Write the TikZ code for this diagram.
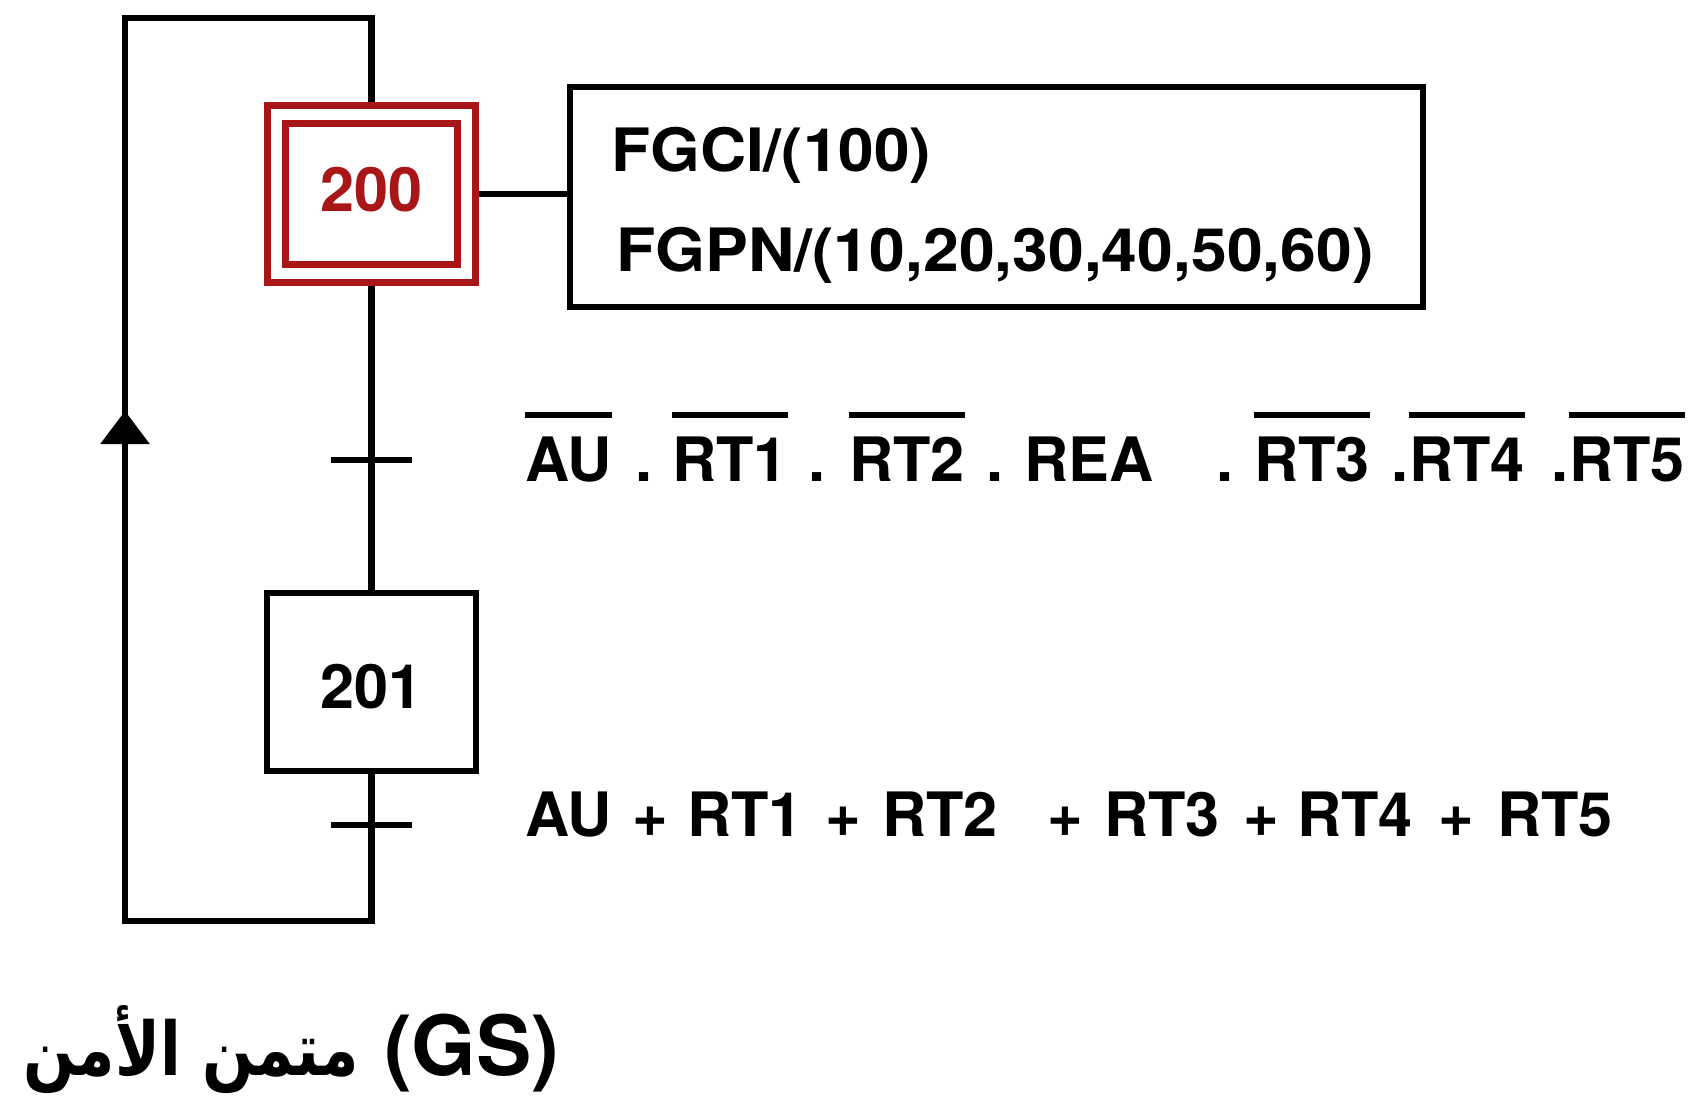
\documentclass[tikz,border=0pt]{standalone}
\usepackage{fontspec}
\usepackage{graphicx}
\setmainfont{TeX Gyre Heros}
\newfontfamily\arabicfont[Script=Arabic]{DejaVu Sans}
\TeXXeTstate=1
\usetikzlibrary{arrows.meta}
\definecolor{stepred}{RGB}{168,22,24}
\newcommand\ovl[1]{\vbox{\hrule height 0.06cm\kern 0.19cm\hbox{#1}}}
\begin{document}
\begin{tikzpicture}[x=0.01cm,y=-0.01cm,line width=0.063cm,
  stepbox/.style={draw,line width=0.063cm,minimum width=2.09cm,minimum height=1.78cm,inner sep=0pt,
    font=\fontsize{17.4pt}{20pt}\selectfont\bfseries},
  initstep/.style={draw=stepred,text=stepred,double=white,double distance=0.11cm,line width=0.07cm,
    minimum width=1.90cm,minimum height=1.595cm,outer sep=0.125cm,inner sep=0pt,
    font=\fontsize{17.4pt}{20pt}\selectfont\bfseries},
  actbox/.style={draw,line width=0.063cm,minimum width=8.53cm,minimum height=2.2cm,inner sep=0pt},
  lbl/.style={anchor=base west,inner sep=0pt,font=\fontsize{17.4pt}{20pt}\selectfont\bfseries},
  actlbl/.style={anchor=base west,inner sep=0pt,font=\fontsize{17pt}{20pt}\selectfont\bfseries},
  tick/.style={line width=0.063cm}
]
\useasboundingbox (0,0) rectangle (1690,1116);
\fill[white] (0,0) rectangle (1690,1116);

% coordinates of the return loop
\coordinate (cBL) at (125,921);
\coordinate (cTL) at (125,18);
\coordinate (arrbase) at (125,470);
\coordinate (arrtip) at (125,411);
\coordinate (t1) at (371.5,460);
\coordinate (t2) at (371.5,825);

% steps and action
\node[initstep,text depth=0.1cm] (s200) at (371.5,194) {200};
\node[stepbox,text height=0.54cm] (s201) at (371.5,682) {201};
\node[actbox] (act) at (996.5,197) {};
\node[actlbl] (a1) at (608,172) {\scalebox{1.07}[1]{FGCI/(100)}};
\node[actlbl] (a2) at (613,272) {\scalebox{1.075}[1]{FGPN/(10,20,30,40,50,60)}};

% connectors
\draw (s200.east) -- (s200.east -| act.west);
\draw (s200.south) -- (s201.north);
\draw (s201.south) |- (cBL) -- (cTL) -| (s200.north);
\draw[-{Triangle[length=0.33cm,width=0.48cm]}] (arrbase) -- (arrtip);

% transitions
\draw[tick] ([xshift=-0.4cm]t1) -- ([xshift=0.4cm]t1);
\draw[tick] ([xshift=-0.4cm]t2) -- ([xshift=0.4cm]t2);

% receptivity 1
\node[lbl] (r1) at (522,482) {\ovl{AU}};
\node[lbl] (r1d1) at (632,482) {.};
\node[lbl] (r2) at (669,482) {\ovl{RT1}};
\node[lbl] (r1d2) at (805,482) {.};
\node[lbl] (r3) at (846,482) {\ovl{RT2}};
\node[lbl] (r1d3) at (983,482) {.};
\node[lbl] (r4) at (1021,482) {REA};
\node[lbl] (r1d4) at (1213,482) {.};
\node[lbl] (r5) at (1251,482) {\ovl{RT3}};
\node[lbl] (r1d5) at (1388,482) {.};
\node[lbl] (r6) at (1406,482) {\ovl{RT4}};
\node[lbl] (r1d6) at (1548,482) {.};
\node[lbl] (r7) at (1566,482) {\ovl{RT5}};

% receptivity 2
\node[lbl] (q1) at (522,837) {AU};
\node[lbl] (q2) at (629,837) {+};
\node[lbl] (q3) at (684,837) {RT1};
\node[lbl] (q4) at (822,837) {+};
\node[lbl] (q5) at (879,837) {RT2};
\node[lbl] (q6) at (1044,837) {+};
\node[lbl] (q7) at (1101,837) {RT3};
\node[lbl] (q8) at (1240,837) {+};
\node[lbl] (q9) at (1294,837) {RT4};
\node[lbl] (q10) at (1435,837) {+};
\node[lbl] (q11) at (1494,837) {RT5};

% title
\node[anchor=base east,inner sep=0pt,font=\arabicfont\bfseries\fontsize{24pt}{28pt}\selectfont] (ar) at (362,1076) {\resizebox{3.35cm}{0.7cm}{\beginR متمن الأمن\endR}};
\node[anchor=base west,inner sep=0pt,font=\fontsize{23.6pt}{28pt}\selectfont\bfseries] (gs) at (381,1076) {(GS)};
\end{tikzpicture}
\end{document}
